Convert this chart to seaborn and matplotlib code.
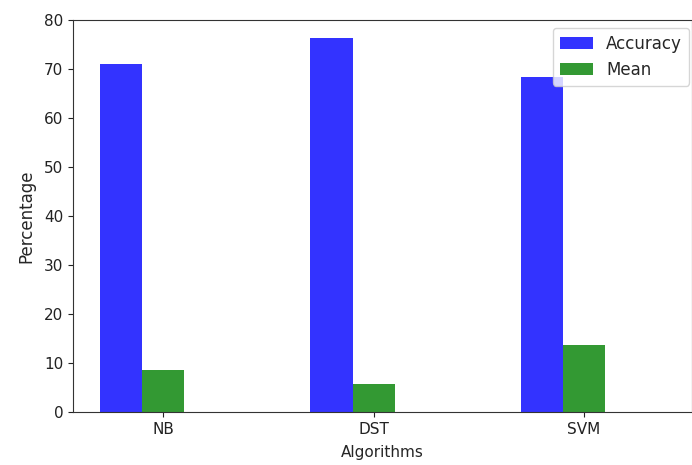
import numpy as np
import pandas as pd
import seaborn as sns
import matplotlib.pyplot as plt

algorithms = ["NB", "DST", "SVM"]
accuracy = [71.0, 76.3, 68.4]
mean = [8.5, 5.8, 13.7]

df = pd.DataFrame({
    "Algorithm": algorithms * 2,
    "value": accuracy + mean,
    "series": ["Accuracy"] * 3 + ["Mean"] * 3,
})

sns.set_style("ticks")
fig = plt.figure(figsize=(6.92, 4.65), dpi=100)
ax = fig.add_axes([0.1055, 0.114, 0.8945, 0.843])

# blue / green bars like matplotlib 'b' and 'g' with alpha 0.8
ax = sns.barplot(
    data=df,
    x="Algorithm",
    y="value",
    hue="series",
    palette=["#3333ff", "#339933"],
    saturation=1,
    width=0.4,
    linewidth=0,
    errorbar=None,
    ax=ax,
)

ax.set_xticks(np.arange(len(algorithms)) + 0.1)
ax.set_xticklabels(algorithms)
ax.set_xlim(-0.328, 2.613)
ax.set_ylim(0, 80)
ax.set_yticks(range(0, 81, 10))
ax.tick_params(labelsize=11, colors="#222222")

ax.set_xlabel("Algorithms", fontsize=11, labelpad=6)
ax.set_ylabel("Percentage", fontsize=12, labelpad=6)

for s in ax.spines.values():
    s.set_color("#333333")

ax.legend(loc="upper left", bbox_to_anchor=(553 / 692, (465 - 28) / 465),
          bbox_transform=fig.transFigure, borderaxespad=0,
          fontsize=12, framealpha=0.8)

plt.savefig("out.png", dpi=100)
